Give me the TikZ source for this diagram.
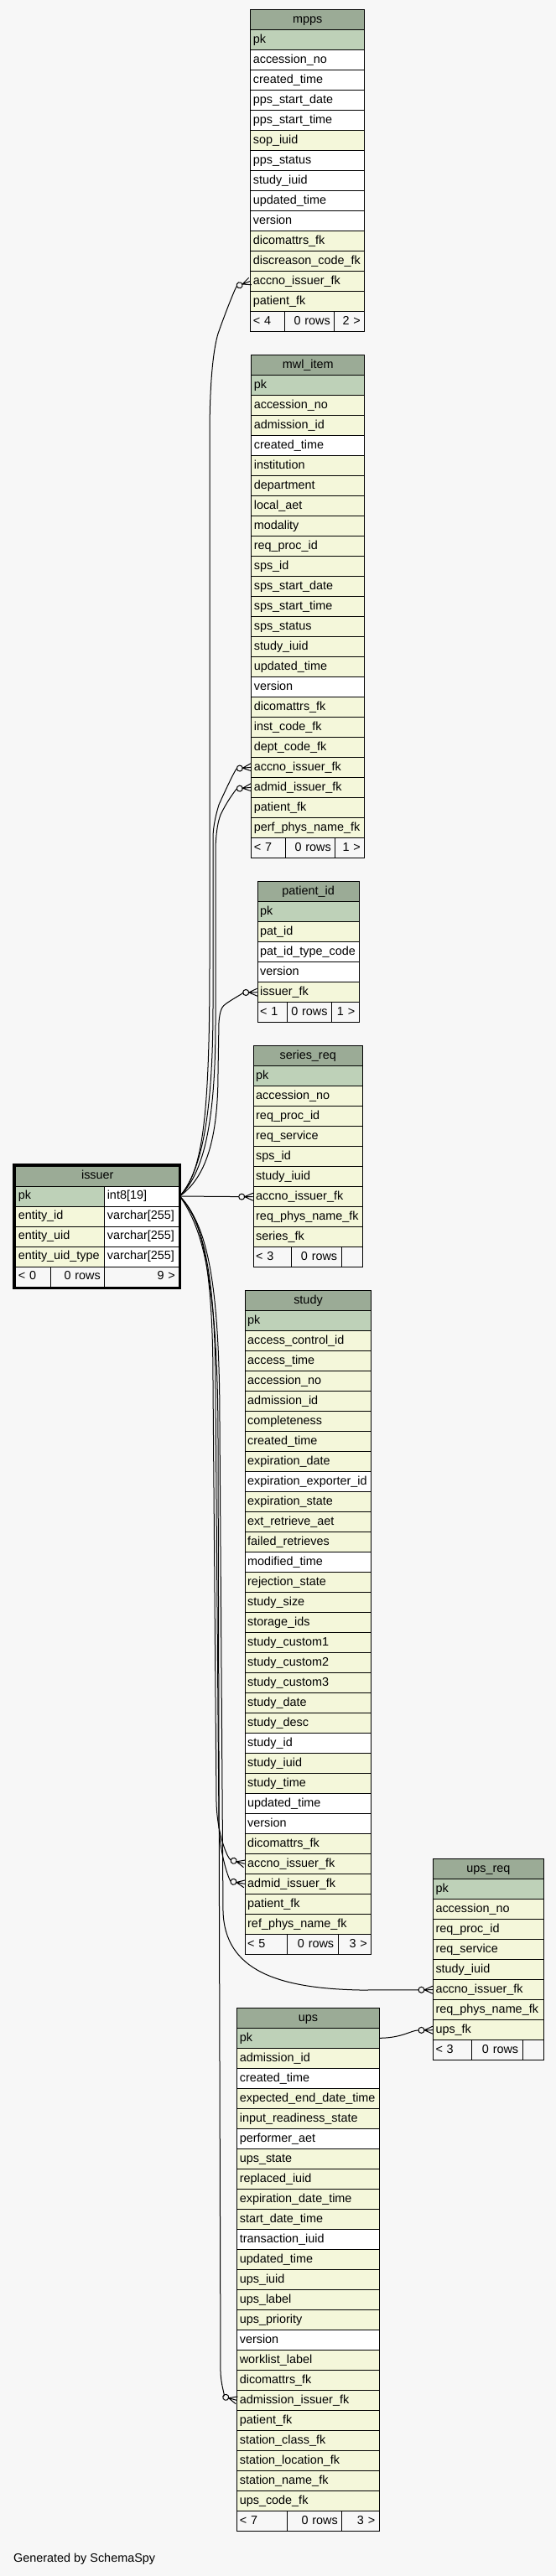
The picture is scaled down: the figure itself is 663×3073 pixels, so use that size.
\documentclass[tikz,border=0pt]{standalone}
\usepackage{fontspec}
\setmainfont{Liberation Sans}
\usetikzlibrary{positioning, arrows.meta}

\definecolor{bgcol}{HTML}{F7F7F7}
\definecolor{headc}{HTML}{9BAB96}
\definecolor{pkc}{HTML}{BED1B8}
\definecolor{ixc}{HTML}{F4F7DA}
\definecolor{whc}{HTML}{FFFFFF}

\hyphenpenalty=10000
\exhyphenpenalty=10000

% zero-or-many end: open circle + crow's foot
\pgfdeclarearrow{
  name = CrowODot,
  setup code = {
    \pgfarrowssettipend{0pt}
    \pgfarrowssetlineend{-17pt}
    \pgfarrowssetvisualbackend{-17pt}
    \pgfarrowssetbackend{-17pt}
  },
  drawing code = {
    \pgfpathmoveto{\pgfpoint{0pt}{4.5pt}}
    \pgfpathlineto{\pgfpoint{-10pt}{0pt}}
    \pgfpathlineto{\pgfpoint{0pt}{-4.5pt}}
    \pgfpathmoveto{\pgfpoint{-10pt}{0pt}}
    \pgfpathlineto{\pgfpoint{0pt}{0pt}}
    \pgfusepathqstroke
    \pgfpathcircle{\pgfpoint{-13.5pt}{0pt}}{3.5pt}
    \pgfusepathqstroke
  }
}

\newcommand\tabfont{\fontsize{14.4}{17}\selectfont}

\tikzset{
  cellbox/.style={draw, line width=1pt, anchor=west, inner xsep=3pt, inner ysep=0pt,
    minimum height=24pt, text height=10.5pt, text depth=3pt, font=\tabfont},
  headcell/.style={cellbox, fill=headc, align=center},
  rowcell/.style={cellbox, align=left},
  footl/.style={cellbox, align=left},
  footr/.style={cellbox, inner xsep=5pt, align=right},
  fklink/.style={line width=1pt, -{CrowODot}},
}

\begin{document}
\begin{tikzpicture}[x=1pt, y=-1pt]
  \fill[bgcol] (0,0) rectangle (663,3073);
  \useasboundingbox (0,0) rectangle (663,3073);

  % --- MPPS ---
  \begin{scope}[shift={(298.3,11.5)}]
    \node[headcell, text width=130pt] (mpps) at (0,12) {mpps};
    \foreach \lbl/\fc [count=\i from 0] in {pk/pkc, accession\_no/whc, created\_time/whc,
        pps\_start\_date/whc, pps\_start\_time/whc, sop\_iuid/ixc, pps\_status/whc,
        study\_iuid/whc, updated\_time/whc, version/whc, dicomattrs\_fk/ixc,
        discreason\_code\_fk/ixc, accno\_issuer\_fk/ixc, patient\_fk/ixc} {
      \node[rowcell, fill=\fc, text width=130pt] (mpps-\i) at (0,36+24*\i) {\lbl};
    }
    \node[footl, text width=35pt] (mpps-fl) at (0,372) {< 4};
    \node[footr, text width=49pt] (mpps-fm) at (41,372) {0 rows};
    \node[footr, text width=26pt] (mpps-fr) at (100,372) {2 >};
  \end{scope}

  % --- MWL_ITEM ---
  \begin{scope}[shift={(299.3,423.3)}]
    \node[headcell, text width=129pt] (mwl) at (0,12) {mwl\_item};
    \foreach \lbl/\fc [count=\i from 0] in {pk/pkc, accession\_no/ixc, admission\_id/ixc,
        created\_time/whc, institution/ixc, department/ixc, local\_aet/ixc, modality/ixc,
        req\_proc\_id/ixc, sps\_id/ixc, sps\_start\_date/ixc, sps\_start\_time/ixc,
        sps\_status/ixc, study\_iuid/ixc, updated\_time/ixc, version/whc,
        dicomattrs\_fk/ixc, inst\_code\_fk/ixc, dept\_code\_fk/ixc, accno\_issuer\_fk/ixc,
        admid\_issuer\_fk/ixc, patient\_fk/ixc, perf\_phys\_name\_fk/ixc} {
      \node[rowcell, fill=\fc, text width=129pt] (mwl-\i) at (0,36+24*\i) {\lbl};
    }
    \node[footl, text width=35pt] (mwl-fl) at (0,588) {< 7};
    \node[footr, text width=49pt] (mwl-fm) at (41,588) {0 rows};
    \node[footr, text width=25pt] (mwl-fr) at (100,588) {1 >};
  \end{scope}

  % --- PATIENT_ID ---
  \begin{scope}[shift={(306.7,1051.7)}]
    \node[headcell, text width=115pt] (patient) at (0,12) {patient\_id};
    \foreach \lbl/\fc [count=\i from 0] in {pk/pkc, pat\_id/ixc, pat\_id\_type\_code/whc,
        version/whc, issuer\_fk/ixc} {
      \node[rowcell, fill=\fc, text width=115pt] (patient-\i) at (0,36+24*\i) {\lbl};
    }
    \node[footl, text width=29pt] (patient-fl) at (0,156) {< 1};
    \node[footr, text width=43.3pt] (patient-fm) at (35,156) {0 rows};
    \node[footr, text width=22.7pt] (patient-fr) at (88.3,156) {1 >};
  \end{scope}

  % --- SERIES_REQ ---
  \begin{scope}[shift={(301.7,1247.7)}]
    \node[headcell, text width=124pt] (series) at (0,12) {series\_req};
    \foreach \lbl/\fc [count=\i from 0] in {pk/pkc, accession\_no/ixc, req\_proc\_id/ixc,
        req\_service/ixc, sps\_id/ixc, study\_iuid/ixc, accno\_issuer\_fk/ixc,
        req\_phys\_name\_fk/ixc, series\_fk/ixc} {
      \node[rowcell, fill=\fc, text width=124pt] (series-\i) at (0,36+24*\i) {\lbl};
    }
    \node[footl, text width=39pt] (series-fl) at (0,252) {< 3};
    \node[footr, text width=50pt] (series-fm) at (45,252) {0 rows};
    \node[footr, text width=15pt] (series-fr) at (105,252) {};
  \end{scope}

  % --- STUDY ---
  \begin{scope}[shift={(291.7,1539.3)}]
    \node[headcell, text width=144.6pt] (study) at (0,12) {study};
    \foreach \lbl/\fc [count=\i from 0] in {pk/pkc, access\_control\_id/ixc, access\_time/ixc,
        accession\_no/ixc, admission\_id/ixc, completeness/ixc, created\_time/ixc,
        expiration\_date/ixc, expiration\_exporter\_id/whc, expiration\_state/ixc,
        ext\_retrieve\_aet/ixc, failed\_retrieves/ixc, modified\_time/whc,
        rejection\_state/ixc, study\_size/ixc, storage\_ids/ixc, study\_custom1/ixc,
        study\_custom2/ixc, study\_custom3/ixc, study\_date/ixc, study\_desc/ixc,
        study\_id/whc, study\_iuid/ixc, study\_time/ixc, updated\_time/whc, version/whc,
        dicomattrs\_fk/ixc, accno\_issuer\_fk/ixc, admid\_issuer\_fk/ixc, patient\_fk/ixc,
        ref\_phys\_name\_fk/ixc} {
      \node[rowcell, fill=\fc, text width=144.6pt] (study-\i) at (0,36+24*\i) {\lbl};
    }
    \node[footl, text width=44pt] (study-fl) at (0,780) {< 5};
    \node[footr, text width=51pt] (study-fm) at (50,780) {0 rows};
    \node[footr, text width=29.6pt] (study-fr) at (111,780) {3 >};
  \end{scope}

  % --- UPS_REQ ---
  \begin{scope}[shift={(516,2217.7)}]
    \node[headcell, text width=125.7pt] (upsreq) at (0,12) {ups\_req};
    \foreach \lbl/\fc [count=\i from 0] in {pk/pkc, accession\_no/ixc, req\_proc\_id/ixc,
        req\_service/ixc, study\_iuid/ixc, accno\_issuer\_fk/ixc, req\_phys\_name\_fk/ixc,
        ups\_fk/ixc} {
      \node[rowcell, fill=\fc, text width=125.7pt] (upsreq-\i) at (0,36+24*\i) {\lbl};
    }
    \node[footl, text width=39.7pt] (upsreq-fl) at (0,228) {< 3};
    \node[footr, text width=51pt] (upsreq-fm) at (45.7,228) {0 rows};
    \node[footr, text width=15pt] (upsreq-fr) at (106.7,228) {};
  \end{scope}

  % --- UPS ---
  \begin{scope}[shift={(282.3,2395.3)}]
    \node[headcell, text width=163.4pt] (ups) at (0,12) {ups};
    \foreach \lbl/\fc [count=\i from 0] in {pk/pkc, admission\_id/ixc, created\_time/whc,
        expected\_end\_date\_time/ixc, input\_readiness\_state/ixc, performer\_aet/whc,
        ups\_state/ixc, replaced\_iuid/ixc, expiration\_date\_time/ixc, start\_date\_time/ixc,
        transaction\_iuid/whc, updated\_time/ixc, ups\_iuid/ixc, ups\_label/ixc,
        ups\_priority/ixc, version/whc, worklist\_label/ixc, dicomattrs\_fk/ixc,
        admission\_issuer\_fk/ixc, patient\_fk/ixc, station\_class\_fk/ixc,
        station\_location\_fk/ixc, station\_name\_fk/ixc, ups\_code\_fk/ixc} {
      \node[rowcell, fill=\fc, text width=163.4pt] (ups-\i) at (0,36+24*\i) {\lbl};
    }
    \node[footl, text width=53.4pt] (ups-fl) at (0,612) {< 7};
    \node[footr, text width=55.6pt] (ups-fm) at (59.4,612) {0 rows};
    \node[footr, text width=34.4pt] (ups-fr) at (125,612) {3 >};
  \end{scope}

  % --- ISSUER (selected table, bold frame) ---
  \begin{scope}[shift={(18.3,1391)}]
    \node[headcell, text width=189pt] (issuer) at (0,12) {issuer};
    \foreach \lbl/\fc/\typ [count=\i from 0] in {pk/pkc/int8[19], entity\_id/ixc/varchar[255],
        entity\_uid/ixc/varchar[255], entity\_uid\_type/ixc/varchar[255]} {
      \node[rowcell, fill=\fc, text width=100pt] (issuer-\i) at (0,36+24*\i) {\lbl};
      \node[rowcell, fill=whc, text width=83pt] (issuer-t\i) at (106,36+24*\i) {\typ};
    }
    \node[footl, text width=35.7pt] (issuer-fl) at (0,132) {< 0};
    \node[footr, text width=54.3pt] (issuer-fm) at (41.7,132) {0 rows};
    \node[footr, text width=79pt] (issuer-fr) at (106,132) {9 >};
    \draw[line width=3pt] (-1.6,-1.6) rectangle (196.6,145.6);
  \end{scope}

  % --- FOREIGN KEYS TO ISSUER ---
  \draw[fklink] (issuer-t0.east) .. controls (242,1398) and (250,1330) .. (250,1150)
    -- (250,520) .. controls (250,450) and (255,415) .. (260,398)
    .. controls (268,375) and (281,342) .. (mpps-12.west);
  \draw[fklink] (issuer-t0.east) .. controls (238,1400) and (254,1340) .. (254,1200)
    -- (254,1000) .. controls (254,985) and (258,970) .. (261,960)
    .. controls (270,940) and (281,917) .. (mwl-19.west);
  \draw[fklink] (issuer-t0.east) .. controls (240,1402) and (257,1350) .. (257,1220)
    -- (257,1010) .. controls (258,990) and (260,980) .. (263,972)
    .. controls (271,955) and (282,941) .. (mwl-20.west);
  \draw[fklink] (issuer-t0.east) .. controls (245,1405) and (260,1360) .. (260,1280)
    -- (261,1220) .. controls (262,1205) and (265,1200) .. (270,1197)
    .. controls (280,1190) and (292,1184) .. (patient-4.west);
  \draw[fklink] (issuer-t0.east) -- (series-6.west);
  \draw[fklink] (issuer-t0.east) .. controls (238,1450) and (254,1500) .. (254,1650)
    -- (258,2150) .. controls (259,2190) and (272,2218) .. (study-27.west);
  \draw[fklink] (issuer-t0.east) .. controls (240,1455) and (257,1510) .. (257,1660)
    -- (261,2175) .. controls (262,2215) and (274,2244) .. (study-28.west);
  \draw[fklink] (issuer-t0.east) .. controls (245,1460) and (262,1520) .. (262,1700)
    -- (266,2280) .. controls (268,2350) and (330,2372) .. (430,2374) -- (upsreq-5.west);
  \draw[fklink] (issuer-t0.east) .. controls (242,1465) and (260,1530) .. (260,1720)
    -- (263,2830) .. controls (264,2850) and (270,2860) .. (ups-18.west);

  % --- UPS TO UPS_REQ ---
  \draw[fklink] (ups-0.east) .. controls (480,2431) and (490,2422) .. (upsreq-7.west);

  \node[anchor=west, inner sep=0pt, font=\tabfont] (credit) at (16,3053)
    {Generated by SchemaSpy};
\end{tikzpicture}
\end{document}
